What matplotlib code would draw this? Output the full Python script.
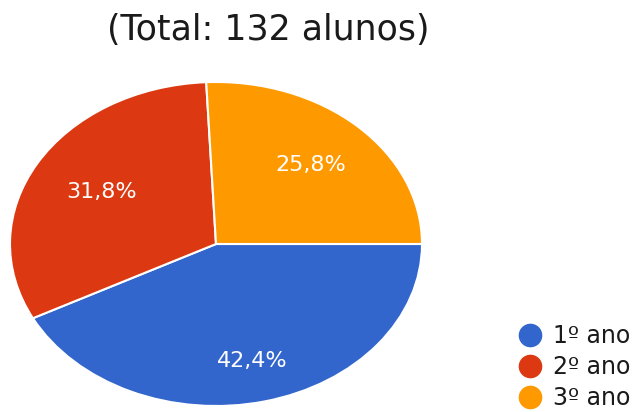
import matplotlib
matplotlib.use("Agg")
import matplotlib.pyplot as plt
import numpy as np
from matplotlib.lines import Line2D

plt.rcParams["font.family"] = ["DejaVu Sans"]

# dados: alunos por ano (total 132)
labels = ["1º ano", "2º ano", "3º ano"]
counts = [56, 42, 34]
colors = ["#3366CC", "#DC3912", "#FF9900"]
title = f"(Total: {sum(counts)} alunos)"

W, H = 641, 412
fig = plt.figure(figsize=(W / 100, H / 100), dpi=100)

# pie esticado na horizontal, como na imagem original
ax = fig.add_axes([10 / W, 6 / H, 412 / W, 324 / H])
wedges, _, autotexts = ax.pie(
    counts, colors=colors, startangle=0, counterclock=False,
    autopct=lambda p: f"{p:.1f}%".replace(".", ","), pctdistance=0.66,
    wedgeprops=dict(edgecolor="white", linewidth=1.5),
    textprops=dict(color="white", fontsize=16),
)
# distância radial dos rótulos, fatia a fatia
for w, t, d in zip(wedges, autotexts, [0.74, 0.64, 0.67]):
    a = np.deg2rad((w.theta1 + w.theta2) / 2)
    t.set_position((d * np.cos(a), d * np.sin(a)))
ax.set_aspect("auto")
ax.set_xlim(-1, 1)
ax.set_ylim(-1, 1)
ax.axis("off")

fig.text(268 / W, 1 - 30 / H, title, ha="center", va="center",
         fontsize=25, color="#1a1a1a")

handles = [Line2D([], [], marker="o", linestyle="", markersize=16,
                  markerfacecolor=c, markeredgecolor=c) for c in colors]
fig.legend(handles, labels, loc="center left", bbox_to_anchor=(506 / W, 45 / H),
           frameon=False, fontsize=17, labelspacing=0.3, handlelength=1.0,
           handletextpad=0.5, borderpad=0, labelcolor="#1a1a1a")

fig.savefig("out.png", dpi=100)
